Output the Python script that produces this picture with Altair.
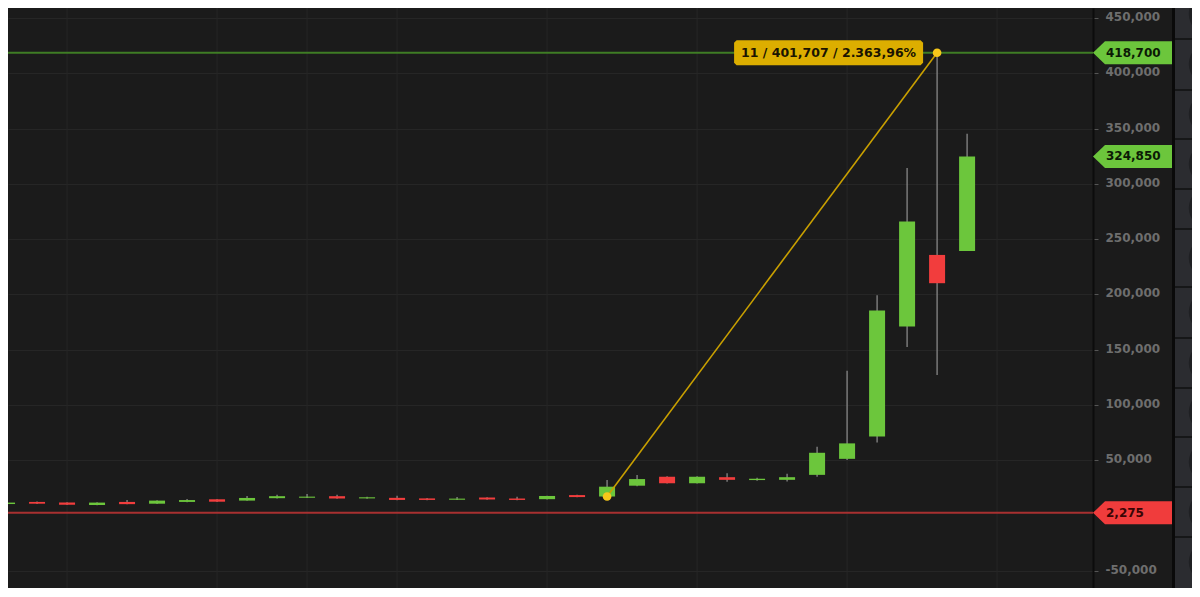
import altair as alt
import pandas as pd

# ---------------- data ----------------
bar_index = list(range(33))
open_px = [10200, 12100, 11500, 9300, 12100, 10500, 12100, 14500, 13300, 15500, 15900,
           17300, 15300, 15800, 15300, 14100, 16100, 15200, 14600, 18300, 17000,
           26800, 34900, 29000, 34500, 31900, 32100, 36600, 51100, 71300, 170800,
           235700, 239300]
close_px = [11500, 10500, 9500, 11500, 10100, 13300, 13800, 12300, 15700, 17300, 16900,
            15200, 16300, 13900, 13900, 15100, 14300, 13900, 17500, 16500, 25900,
            32800, 29000, 34900, 32100, 33100, 34500, 56600, 65100, 185300, 265900,
            210100, 324850]
high_px = [11800, 12400, 11800, 11800, 13800, 13600, 14700, 14800, 17400, 18600, 19200,
           18600, 16800, 17700, 15600, 16500, 16400, 16800, 17800, 18600, 31900,
           36400, 35300, 35300, 38000, 33900, 37600, 62100, 130900, 199300, 314300,
           418700, 345300]
low_px = [9900, 10200, 9300, 9100, 9900, 10300, 11900, 12000, 13100, 15300, 15600,
          15000, 15000, 13700, 13700, 13900, 14100, 13700, 14400, 16300, 16993,
          26300, 28700, 28700, 30300, 31300, 30700, 34900, 50000, 66000, 152300,
          127000, 239300]

vgrid_index = [2, 7, 10, 13, 18, 23, 28, 33]
y_ticks = [-50000, 50000, 100000, 150000, 200000, 250000, 300000, 350000, 400000, 450000]

high_level = 418700
low_level = 2275
last_close = 324850

measure_from = 20   # bar index of the measured low
measure_to = 31     # bar index of the measured high

# ---------------- derived tables ----------------
df = pd.DataFrame({"i": bar_index, "open": open_px, "close": close_px,
                   "high": high_px, "low": low_px})

p0 = low_px[measure_from]
p1 = high_px[measure_to]
n_bars = measure_to - measure_from
diff = p1 - p0
pct = diff / p0 * 100
pct_txt = f"{pct:,.2f}".replace(",", "X").replace(".", ",").replace("X", ".")
ann_text = f"{n_bars} / {diff:,} / {pct_txt}%"
meas = pd.DataFrame({"i": [measure_from, measure_to], "v": [p0, p1]})
ann = pd.DataFrame({"i": [measure_to], "v": [p1], "t": [ann_text]})

tags = pd.DataFrame({
    "v": [high_level, last_close, low_level],
    "t": [f"{high_level:,}", f"{last_close:,}", f"{low_level:,}"],
    "kind": ["g", "g", "r"],
})
hlines = pd.DataFrame({"v": [high_level, low_level], "kind": ["g", "r"]})
vgrid = pd.DataFrame({"i": vgrid_index})
one = pd.DataFrame({"a": [0]})

# ---------------- styling ----------------
BG = "#1b1b1b"
GRID = "#262626"
GREEN = "#6cc63c"
RED = "#f23d3d"
WICK = "#888888"
W, H = 1085, 580
PAD_R = 99
# value -> page y in the reference: 515.3 - 1.1047 * v/1000 ; plot top at page y 8
Y_TOP = (515.3 - 8) / 1.1047 * 1000
Y_BOT = (515.3 - 8 - H) / 1.1047 * 1000

xs = alt.Scale(domain=[0.1985, 36.03], nice=False, zero=False)
ys = alt.Scale(domain=[Y_BOT, Y_TOP], nice=False, zero=False)
yax = alt.Axis(
    orient="right", values=y_ticks, title=None, grid=True, gridColor=GRID,
    gridWidth=1, domain=True, domainColor="#0c0c0c", domainWidth=2,
    ticks=True, tickColor="#555555", tickSize=5, labelPadding=7,
    labelColor="#6e6e6e", labelFont="DejaVu Sans", labelFontSize=12,
    labelFontWeight="bold", labelAlign="left", labelBaseline="middle",
    labelOffset=-1.5,
    labelExpr="replace(format(datum.value, ','), '\u2212', '-')", zindex=0,
)


def X(field="i"):
    return alt.X(f"{field}:Q", scale=xs, axis=None)


def Y(field):
    return alt.Y(f"{field}:Q", scale=ys, axis=yax)


is_green = "datum.kind == 'g'"
layers = []

# vertical grid
layers.append(alt.Chart(vgrid).mark_rule(color=GRID, strokeWidth=1).encode(
    x=X(), y=alt.value(0), y2=alt.value(H)))

# horizontal level lines
layers.append(alt.Chart(hlines).mark_rule(strokeWidth=2).encode(
    y=Y("v"), x=alt.value(0), x2=alt.value(W),
    color=alt.condition(is_green, alt.value("#3f7d25"), alt.value("#a83030"))))

# wicks
layers.append(alt.Chart(df).mark_rule(color=WICK, strokeWidth=1.3, clip=True).encode(
    x=X(), y=Y("low"), y2="high"))

# bodies
layers.append(alt.Chart(df).mark_bar(width=16, clip=True).encode(
    x=X(), y=Y("open"), y2="close",
    color=alt.condition("datum.close >= datum.open", alt.value(GREEN), alt.value(RED))))

# measurement line + dots
layers.append(alt.Chart(meas).mark_line(color="#c9a000", strokeWidth=1.6).encode(
    x=X(), y=Y("v")))
layers.append(alt.Chart(meas).mark_circle(color="#f7c81a", opacity=1, size=75).encode(
    x=X(), y=Y("v")))

# annotation box
bw, bh = 189.0, 25.0
hy = (bh / 2) / (bw / 2)
c = 2.5 / (bw / 2)
box_path = (f"M-1,{-hy + c:.4f}L{-1 + c:.4f},{-hy:.4f}L{1 - c:.4f},{-hy:.4f}L1,{-hy + c:.4f}"
            f"L1,{hy - c:.4f}L{1 - c:.4f},{hy:.4f}L{-1 + c:.4f},{hy:.4f}L-1,{hy - c:.4f}Z")
layers.append(alt.Chart(ann).mark_point(shape=box_path, size=bw * bw, filled=True,
                                        fill="#dcae00", strokeWidth=0, opacity=1,
                                        xOffset=-108.5).encode(x=X(), y=Y("v")))
layers.append(alt.Chart(ann).mark_text(dx=-108.5, align="center", baseline="middle",
                                       font="DejaVu Sans", fontSize=12.5, fontWeight="bold",
                                       color="#1a1400").encode(
    x=X(), y=Y("v"), text="t:N"))

# price tags on axis
tag_path = "M-1,0L-0.7,-0.2875L1,-0.2875L1,0.2875L-0.7,0.2875Z"
layers.append(alt.Chart(tags).mark_point(shape=tag_path, size=6400, filled=True,
                                         strokeWidth=0, opacity=1).encode(
    x=alt.value(W + 40), y=Y("v"),
    fill=alt.condition(is_green, alt.value(GREEN), alt.value("#f03c3c"))))
layers.append(alt.Chart(tags).mark_text(align="left", baseline="middle", font="DejaVu Sans",
                                        fontSize=12, fontWeight="bold").encode(
    x=alt.value(W + 13), y=Y("v"), text="t:N",
    color=alt.condition(is_green, alt.value("#0b1a05"), alt.value("#3a0505"))))

# right-hand toolbar strip (decoration)
layers.append(alt.Chart(one).mark_rect(color="#2b2c30").encode(
    x=alt.value(W + 82), x2=alt.value(W + PAD_R), y=alt.value(0), y2=alt.value(H)))
for cy in [6, 56, 106, 156, 200, 250, 304, 355, 404, 454, 504, 554]:
    layers.append(alt.Chart(one).mark_circle(color="#1f2023", opacity=1, size=1800).encode(
        x=alt.value(W + 117), y=alt.value(cy)))
layers.append(alt.Chart(one).mark_rule(color="#0a0a0a", strokeWidth=3).encode(
    x=alt.value(W + 80.5), y=alt.value(0), y2=alt.value(H)))
for sy in [31, 82, 131, 181, 221, 279, 330, 380, 429, 479, 529]:
    layers.append(alt.Chart(one).mark_rule(color="#101010", strokeWidth=1.5).encode(
        x=alt.value(W + 82), x2=alt.value(W + PAD_R), y=alt.value(sy)))

chart = alt.layer(*layers).properties(
    width=W, height=H,
    autosize=alt.AutoSizeParams(type="none"),
    padding={"left": 0, "top": 0, "right": PAD_R, "bottom": 0},
    background=BG,
).configure_view(stroke=None)

chart.save("out.html", embed_options={"renderer": "svg", "actions": False})
